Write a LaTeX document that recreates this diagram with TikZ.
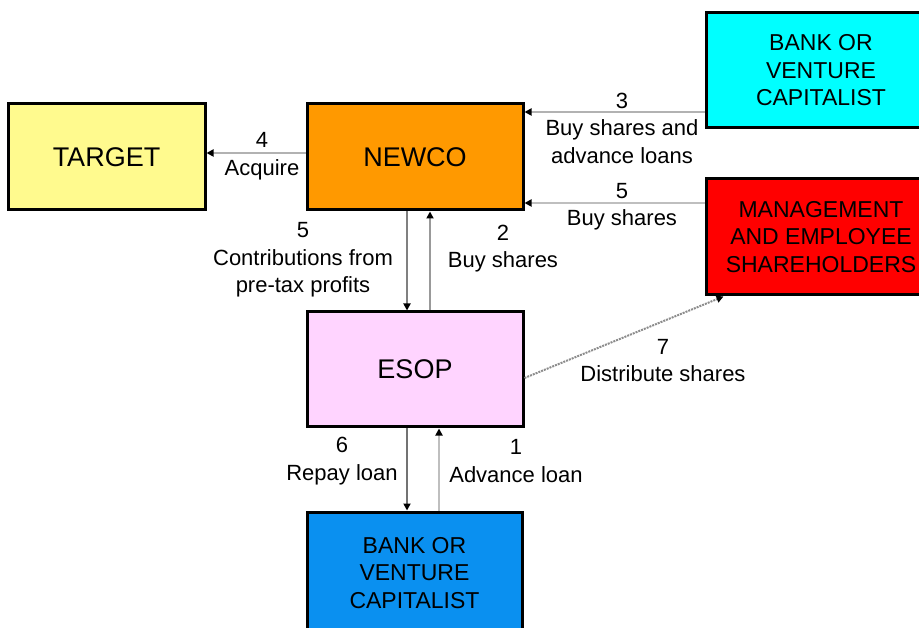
\documentclass[tikz,border=0pt]{standalone}
\usepackage{fontspec}
\setmainfont{Liberation Sans}
\usetikzlibrary{arrows.meta}
\definecolor{tgtyellow}{HTML}{FFFA8E}
\definecolor{newcoorange}{HTML}{FF9900}
\definecolor{bankcyan}{HTML}{00FFFF}
\definecolor{mgmtred}{HTML}{FF0000}
\definecolor{esoppink}{HTML}{FFD4FF}
\definecolor{bankblue}{HTML}{0A90F0}
\tikzset{
  box/.style={draw=black, line width=3pt, inner sep=0pt, align=center},
  bigtext/.style={font=\fontsize{27}{30}\selectfont},
  smalltext/.style={font=\fontsize{23}{27.5}\selectfont},
  lbl/.style={align=center, inner sep=0pt, font=\fontsize{22}{27.5}\selectfont},
  arr/.style={line width=2pt, -{Triangle[length=7pt,width=7pt,color=black]}},
}
\begin{document}
\begin{tikzpicture}[x=1pt,y=-1pt]
\useasboundingbox (0,0) rectangle (919,628);
% boxes
\node[box, bigtext, fill=tgtyellow, minimum width=197pt, minimum height=106pt] (target) at (106.5,157) {TARGET};
\node[box, bigtext, fill=newcoorange, minimum width=216pt, minimum height=106pt] (newco) at (415,157) {NEWCO};
\node[box, bigtext, fill=esoppink, minimum width=216pt, minimum height=115pt] (esop) at (415,369.5) {ESOP};
\node[box, smalltext, fill=bankblue, minimum width=215pt, minimum height=122pt] (bankb) at (414.5,573) {BANK OR\\VENTURE\\CAPITALIST};
\node[box, smalltext, fill=bankcyan, minimum width=230pt, minimum height=115pt] (bankt) at (821,70.5) {BANK OR\\VENTURE\\CAPITALIST};
\node[box, smalltext, fill=mgmtred, minimum width=230pt, minimum height=116pt] (mgmt) at (821,237) {MANAGEMENT\\AND EMPLOYEE\\SHAREHOLDERS};
% connectors
\draw[arr, draw=black!30] ([yshift=-41.5pt]bankt.west) -- ([yshift=45pt]newco.east);
\draw[arr, draw=black!25] ([yshift=34pt]mgmt.west) -- ([yshift=-46pt]newco.east);
\draw[arr, draw=black!30] ([yshift=4pt]newco.west) -- ([yshift=4pt]target.east);
\draw[arr, draw=black!50] ([xshift=-8pt]newco.south) -- ([xshift=-8pt]esop.north);
\draw[arr, draw=black!40] ([xshift=15pt]esop.north) -- ([xshift=15pt]newco.south);
\draw[arr, draw=black!45, dash pattern=on 2pt off 1pt] ([yshift=-8.5pt]esop.east) -- ([xshift=19pt]mgmt.south west);
\draw[arr, draw=black!55] ([xshift=-8pt]esop.south) -- ([xshift=-7.5pt]bankb.north);
\draw[arr, draw=black!25] ([xshift=24.5pt]bankb.north) -- ([xshift=24pt]esop.south);
% labels
\node[lbl] (l3) at (622,128) {3\\Buy shares and\\advance loans};
\node[lbl] (l5r) at (622,206.5) {5\\Buy shares};
\node[lbl] (l4) at (262,156) {4\\Acquire};
\node[lbl] (l5) at (303,260) {5\\Contributions from\\pre-tax profits};
\node[lbl] (l2) at (503,248.5) {2\\Buy shares};
\node[lbl] (l7) at (663,360.5) {7\\Distribute shares};
\node[lbl] (l6) at (342,461) {6\\Repay loan};
\node[lbl] (l1) at (516,461) {1\\Advance loan};
\end{tikzpicture}
\end{document}
